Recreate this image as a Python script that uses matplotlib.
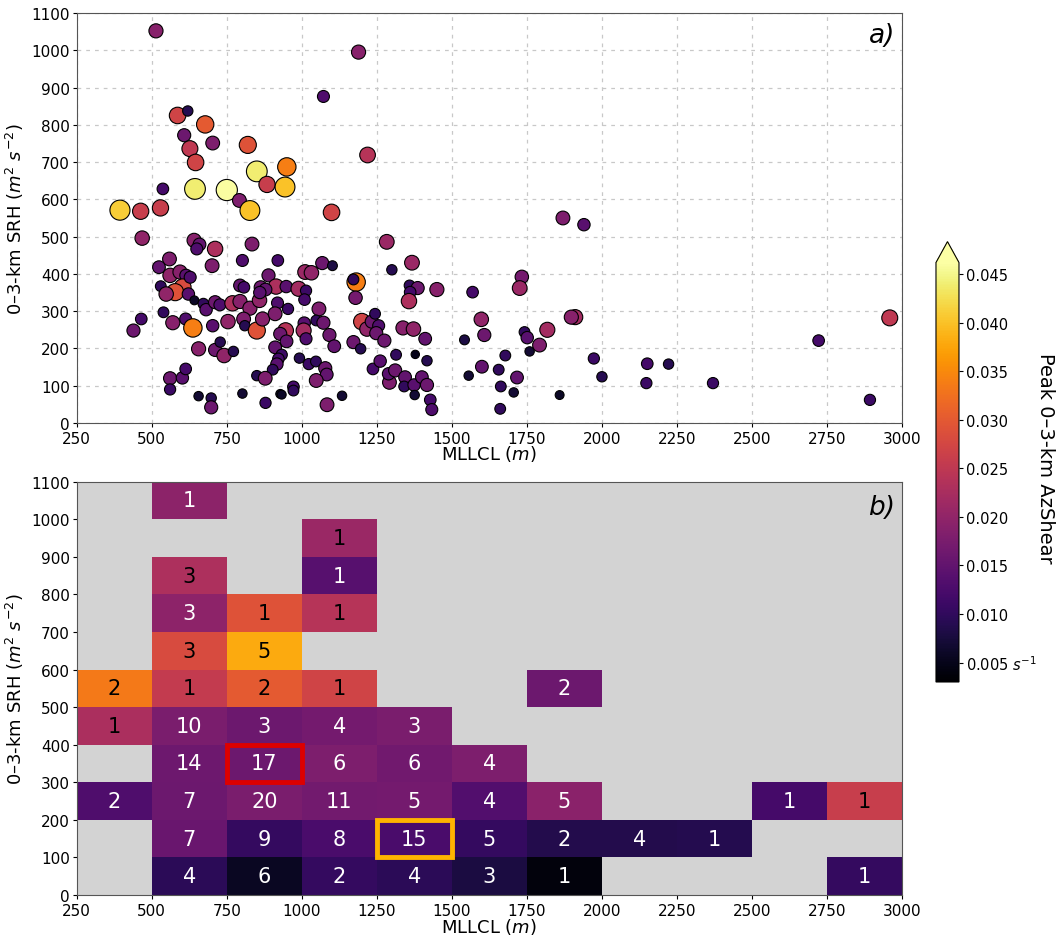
import numpy as np
import matplotlib
matplotlib.use("Agg")
import matplotlib.pyplot as plt
from matplotlib.colors import Normalize
from matplotlib.patches import Rectangle

# ---------------- scatter data (panel a) ----------------
mllcl = [514, 1189, 1072, 586, 620, 678, 608, 703, 627, 646, 820, 1219, 850, 950, 884, 944, 644, 750,
         537, 792, 827, 394, 463, 529, 1099, 468, 1283, 641, 659, 650, 711, 834, 559, 524, 701, 802,
         920, 1068, 1102, 1011, 1032, 1181, 1172, 1179, 1300, 1367, 1359, 1386, 1361, 1357, 1450, 1569,
         1733, 1726, 561, 594, 614, 603, 578, 530, 548, 628, 622, 642, 672, 681, 711, 727, 769, 794,
         827, 859, 794, 807, 863, 889, 914, 948, 989, 1014, 1009, 919, 954, 1057, 879, 860, 439, 465,
         539, 570, 613, 637, 703, 754, 806, 810, 850, 869, 911, 946, 928, 949, 1008, 1006, 1014, 1048,
         1072, 1092, 1108, 1172, 1196, 1200, 1217, 1233, 1244, 1256, 1248, 1275, 1337, 1372, 1411, 1542,
         1598, 1608, 656, 711, 741, 728, 772, 911, 933, 922, 917, 903, 850, 878, 992, 1023, 1047, 1078,
         1083, 1048, 972, 972, 928, 933, 802, 656, 698, 698, 879, 1084, 1134, 561, 602, 613, 561, 1237,
         1261, 1292, 1289, 1311, 1314, 1344, 1341, 1374, 1378, 1376, 1400, 1417, 1417, 1428, 1433, 1556,
         1600, 1656, 1663, 1661, 1678, 1706, 1717, 1742, 1751, 1759, 1792, 1818, 1870, 1940, 1911, 1898,
         1859, 1973, 2000, 2151, 2148, 2222, 2370, 2722, 2893, 2959]
srh = [1052, 995, 876, 825, 837, 801, 772, 751, 736, 699, 746, 719, 675, 687, 640, 633, 628, 625,
       628, 597, 570, 571, 568, 577, 565, 496, 486, 490, 479, 467, 467, 480, 440, 418, 422, 436,
       436, 429, 422, 405, 403, 378, 385, 336, 411, 430, 369, 362, 351, 327, 358, 351,
       392, 362, 396, 405, 396, 364, 351, 367, 346, 391, 346, 329, 320, 304, 324, 317, 321, 326,
       308, 329, 369, 364, 364, 396, 366, 366, 360, 355, 331, 322, 306, 306, 358, 350, 248, 279,
       297, 269, 279, 255, 261, 272, 279, 261, 248, 279, 293, 248, 239, 219, 268, 248, 226, 275,
       269, 236, 206, 217, 199, 272, 252, 272, 293, 261, 241, 221, 255, 252, 226, 223,
       278, 236, 199, 196, 181, 217, 192, 203, 183, 172, 158, 143, 127, 120, 174, 158, 165, 147,
       130, 114, 97, 87, 78, 76, 79, 72, 67, 42, 54, 49, 73, 120, 121, 145, 90, 145,
       166, 109, 132, 141, 183, 123, 98, 102, 184, 75, 123, 102, 167, 62, 36, 127,
       151, 143, 98, 38, 181, 82, 122, 244, 229, 192, 209, 250, 550, 532, 284, 284,
       75, 173, 124, 159, 107, 158, 107, 221, 62, 282]
azshear = [0.019, 0.019, 0.013, 0.027, 0.009, 0.030, 0.016, 0.018, 0.025, 0.027, 0.029, 0.024, 0.044, 0.034, 0.026, 0.040, 0.044, 0.046,
           0.012, 0.018, 0.040, 0.041, 0.026, 0.026, 0.027, 0.020, 0.021, 0.019, 0.015, 0.013, 0.023, 0.018, 0.018, 0.015, 0.018, 0.013,
           0.012, 0.016, 0.008, 0.021, 0.020, 0.034, 0.010, 0.017, 0.009, 0.021, 0.010, 0.016, 0.012, 0.023, 0.019, 0.012,
           0.017, 0.021, 0.020, 0.019, 0.014, 0.028, 0.029, 0.010, 0.020, 0.013, 0.014, 0.006, 0.010, 0.014, 0.016, 0.013, 0.023, 0.019,
           0.019, 0.020, 0.015, 0.012, 0.016, 0.016, 0.023, 0.014, 0.022, 0.011, 0.012, 0.013, 0.011, 0.018, 0.015, 0.014, 0.016, 0.012,
           0.010, 0.019, 0.013, 0.034, 0.014, 0.020, 0.018, 0.009, 0.029, 0.019, 0.018, 0.024, 0.016, 0.015, 0.014, 0.022, 0.013, 0.010,
           0.016, 0.016, 0.015, 0.016, 0.009, 0.027, 0.020, 0.016, 0.010, 0.013, 0.016, 0.016, 0.019, 0.020, 0.015, 0.008,
           0.020, 0.016, 0.019, 0.016, 0.020, 0.009, 0.009, 0.015, 0.011, 0.012, 0.014, 0.010, 0.009, 0.018, 0.009, 0.011, 0.010, 0.016,
           0.015, 0.018, 0.012, 0.010, 0.006, 0.006, 0.007, 0.007, 0.009, 0.016, 0.011, 0.018, 0.007, 0.016, 0.014, 0.012, 0.011, 0.012,
           0.014, 0.018, 0.014, 0.016, 0.010, 0.015, 0.010, 0.014, 0.005, 0.007, 0.015, 0.016, 0.009, 0.012, 0.013, 0.007,
           0.015, 0.010, 0.010, 0.010, 0.010, 0.007, 0.015, 0.010, 0.014, 0.007, 0.018, 0.022, 0.018, 0.014, 0.022, 0.019,
           0.006, 0.011, 0.009, 0.012, 0.011, 0.009, 0.011, 0.012, 0.011, 0.025]

# ---------------- binned data (panel b) ----------------
mllcl_edges = [250, 500, 750, 1000, 1250, 1500, 1750, 2000, 2250, 2500, 2750, 3000]
srh_edges = [0, 100, 200, 300, 400, 500, 600, 700, 800, 900, 1000, 1100]
# rows: SRH bins from 0-100 (first) up to 1000-1100 (last); columns: MLLCL bins
bin_counts = [
    [0, 4, 6, 2, 4, 3, 1, 0, 0, 0, 1],
    [0, 7, 9, 8, 15, 5, 2, 4, 1, 0, 0],
    [2, 7, 20, 11, 5, 4, 5, 0, 0, 1, 1],
    [0, 14, 17, 6, 6, 4, 0, 0, 0, 0, 0],
    [1, 10, 3, 4, 3, 0, 0, 0, 0, 0, 0],
    [2, 1, 2, 1, 0, 0, 2, 0, 0, 0, 0],
    [0, 3, 5, 0, 0, 0, 0, 0, 0, 0, 0],
    [0, 3, 1, 1, 0, 0, 0, 0, 0, 0, 0],
    [0, 3, 0, 1, 0, 0, 0, 0, 0, 0, 0],
    [0, 0, 0, 1, 0, 0, 0, 0, 0, 0, 0],
    [0, 1, 0, 0, 0, 0, 0, 0, 0, 0, 0],
]
nan = np.nan
bin_mean_azshear = [
    [nan, 0.0095, 0.0056, 0.0103, 0.0095, 0.0078, 0.0039, nan, nan, nan, 0.0103],
    [nan, 0.0158, 0.0103, 0.0125, 0.0125, 0.0103, 0.0087, 0.0087, 0.0088, nan, nan],
    [0.0130, 0.0160, 0.0176, 0.0168, 0.0170, 0.0133, 0.0193, nan, nan, 0.0120, 0.0260],
    [nan, 0.0163, 0.0160, 0.0180, 0.0165, 0.0180, nan, nan, nan, nan, nan],
    [0.0228, 0.0176, 0.0160, 0.0170, 0.0176, nan, nan, nan, nan, nan, nan],
    [0.0335, 0.0255, 0.0300, 0.0270, nan, nan, 0.0160, nan, nan, nan, nan],
    [nan, 0.0280, 0.0380, nan, nan, nan, nan, nan, nan, nan, nan],
    [nan, 0.0197, 0.0290, 0.0240, nan, nan, nan, nan, nan, nan, nan],
    [nan, 0.0230, nan, 0.0138, nan, nan, nan, nan, nan, nan, nan],
    [nan, nan, nan, 0.0210, nan, nan, nan, nan, nan, nan, nan],
    [nan, 0.0195, nan, nan, nan, nan, nan, nan, nan, nan, nan],
]
# highlighted bins: (MLLCL lower edge, SRH lower edge, colour)
highlights = [(750, 300, '#dd0000'), (1250, 100, '#ffb400')]

cbar_ticks = [0.005, 0.010, 0.015, 0.020, 0.025, 0.030, 0.035, 0.040, 0.045]

# ---------------- figure ----------------
plt.rcParams['font.family'] = ['DejaVu Sans']
fig = plt.figure(figsize=(10.6, 9.37), dpi=100)
ax1 = fig.add_axes([0.0724, 0.5475, 0.7786, 0.4376])
ax2 = fig.add_axes([0.0724, 0.0438, 0.7786, 0.4411])
cax = fig.add_axes([0.883, 0.2711, 0.0217, 0.470])

cmap = plt.get_cmap('inferno')
norm = Normalize(vmin=0.003, vmax=0.0462)

x = np.array(mllcl, float)
y = np.array(srh, float)
v = np.array(azshear, float)
sizes = 12 + 4800 * v
sc = ax1.scatter(x, y, c=v, s=sizes, cmap=cmap, norm=norm,
                 edgecolors='black', linewidths=0.8, zorder=3)

xt = np.arange(250, 3001, 250)
yt = np.arange(0, 1101, 100)
for ax in (ax1, ax2):
    ax.set_xlim(250, 3000)
    ax.set_ylim(0, 1100)
    ax.set_xticks(xt)
    ax.set_yticks(yt)
    ax.tick_params(axis='x', labelsize=11, length=3, pad=2.5)
    ax.tick_params(axis='y', labelsize=11, length=3, pad=2)
    ax.set_xlabel('MLLCL ($m$)', fontsize=13)
    ax.xaxis.set_label_coords(0.5, -0.05)
    ax.set_ylabel('0–3-km SRH ($m^2$ $s^{-2}$)', fontsize=13)
    ax.yaxis.set_label_coords(-0.061, 0.5)
    for sp in ax.spines.values():
        sp.set_color('#555555')

ax1.grid(True, linestyle=(0, (3, 4)), color='#c8c8c8', linewidth=0.9, zorder=0)
ax1.set_axisbelow(True)
ax1.text(0.992, 0.978, 'a)', transform=ax1.transAxes, ha='right', va='top',
         fontsize=19, style='italic')

# heatmap
ax2.set_facecolor('lightgrey')
counts = np.array(bin_counts)
means = np.ma.masked_invalid(np.array(bin_mean_azshear, float))
ax2.pcolormesh(mllcl_edges, srh_edges, means, cmap=cmap, norm=norm, zorder=1)
for i in range(counts.shape[0]):
    for j in range(counts.shape[1]):
        if counts[i, j] > 0:
            xc = 0.5 * (mllcl_edges[j] + mllcl_edges[j + 1])
            yc = 0.5 * (srh_edges[i] + srh_edges[i + 1])
            col = 'black' if means[i, j] > 0.02 else 'white'
            ax2.text(xc, yc, str(counts[i, j]), ha='center', va='center',
                     fontsize=15, color=col, zorder=3)
for hx, hy, hc in highlights:
    ax2.add_patch(Rectangle((hx, hy), 250, 100, fill=False, edgecolor=hc,
                            linewidth=3.5, zorder=4))
ax2.text(0.992, 0.97, 'b)', transform=ax2.transAxes, ha='right', va='top',
         fontsize=19, style='italic')

cb = fig.colorbar(sc, cax=cax, extend='max', ticks=cbar_ticks)
labels = ['%.3f' % t for t in cbar_ticks]
labels[0] = '0.005 $s^{-1}$'
cb.set_ticklabels(labels)
cb.ax.tick_params(labelsize=10.5, length=3, pad=2)
fig.text(1046 / 1060, 1 - 458 / 937, 'Peak 0–3-km AzShear', rotation=270,
         ha='center', va='center', fontsize=14)

fig.savefig('out.png', dpi=100)
